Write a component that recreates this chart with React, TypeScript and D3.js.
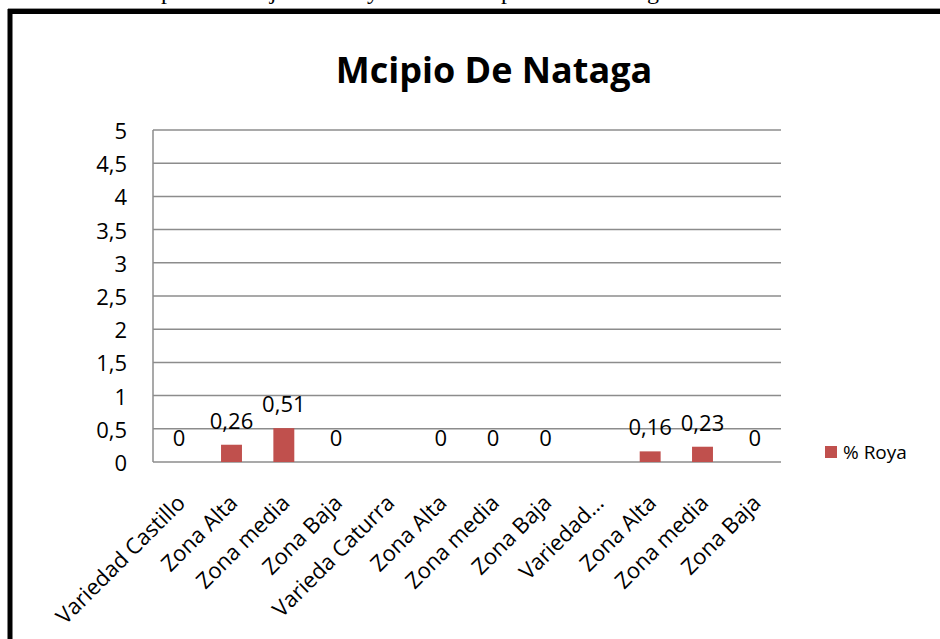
import React from "react";
import * as d3 from "d3";

const categories: string[] = [
  "Variedad Castillo",
  "Zona Alta",
  "Zona media",
  "Zona Baja",
  "Varieda Caturra",
  "Zona Alta",
  "Zona media",
  "Zona Baja",
  "Variedad…",
  "Zona Alta",
  "Zona media",
  "Zona Baja",
];
const royaValues: (number | null)[] = [0, 0.26, 0.51, 0, null, 0, 0, 0, null, 0.16, 0.23, 0];
const yTicks: number[] = [0, 0.5, 1, 1.5, 2, 2.5, 3, 3.5, 4, 4.5, 5];
const seriesName = "% Roya";
const title = "Mcipio De Nataga";
const clippedChars: string[] = ["p", "j", "y", "p", "g"];
const clippedX: number[] = [167, 273, 373, 507, 653];

const W = 940;
const H = 639;
const FONT = "'Open Sans', 'Noto Sans', sans-serif";
const fmt = (v: number) => String(v).replace(".", ",");

export default function App() {
  const left = 153;
  const right = 781;
  const top = 130;
  const bottom = 462;
  const x = d3
    .scaleBand<number>()
    .domain(categories.map((_, i) => i))
    .range([left, right])
    .paddingInner(0.6)
    .paddingOuter(0.3);
  const y = d3.scaleLinear().domain([0, 5]).range([bottom, top]);
  const center = (i: number) => (x(i) as number) + x.bandwidth() / 2;

  return (
    <svg
      width={W}
      height={H}
      style={{ position: "absolute", left: 0, top: 0, background: "#fff" }}
    >
      <rect x={0} y={0} width={W} height={H} fill="#fff" />
      {clippedChars.map((c, i) => (
        <text
          key={"c" + i}
          x={clippedX[i]}
          y={-1}
          fontFamily="'Liberation Serif', serif"
          fontSize={24}
          textAnchor="middle"
          fill="#000"
        >
          {c}
        </text>
      ))}
      <line x1={8} x2={W} y1={8.5} y2={8.5} stroke="#999" strokeWidth={1} />
      <rect x={10} y={11.5} width={W + 20} height={H + 20} fill="none" stroke="#000" strokeWidth={5} />
      <text
        x={494}
        y={83}
        textAnchor="middle"
        fontFamily={FONT}
        fontWeight={700}
        fontSize={36}
        fill="#000"
      >
        {title}
      </text>
      {yTicks.map((t) => (
        <g key={"t" + t}>
          <line x1={left} x2={right} y1={y(t)} y2={y(t)} stroke="#8c8c8c" strokeWidth={1.5} />
          <text
            x={127}
            y={y(t)}
            textAnchor="end"
            dominantBaseline="central"
            fontFamily={FONT}
            fontSize={22}
            fill="#000"
          >
            {fmt(t)}
          </text>
        </g>
      ))}
      <line x1={left} x2={left} y1={top} y2={bottom} stroke="#8c8c8c" strokeWidth={1.5} />
      {royaValues.map((v, i) =>
        v === null ? null : (
          <g key={"b" + i}>
            <rect
              x={x(i)}
              y={y(v)}
              width={x.bandwidth()}
              height={bottom - y(v)}
              fill="#C0504D"
            />
            <text
              x={center(i)}
              y={y(v) - 25}
              textAnchor="middle"
              dominantBaseline="central"
              fontFamily={FONT}
              fontSize={22}
              fill="#000"
            >
              {fmt(v)}
            </text>
          </g>
        )
      )}
      {categories.map((c, i) => (
        <text
          key={"x" + i}
          transform={`translate(${center(i) + 1},${bottom + 36}) rotate(-45)`}
          textAnchor="end"
          dominantBaseline="central"
          fontFamily={FONT}
          fontSize={22}
          fill="#000"
        >
          {c}
        </text>
      ))}
      <rect x={825} y={446} width={12} height={12} fill="#C0504D" />
      <text
        x={843}
        y={452}
        dominantBaseline="central"
        fontFamily={FONT}
        fontSize={19}
        fill="#000"
      >
        {seriesName}
      </text>
    </svg>
  );
}
